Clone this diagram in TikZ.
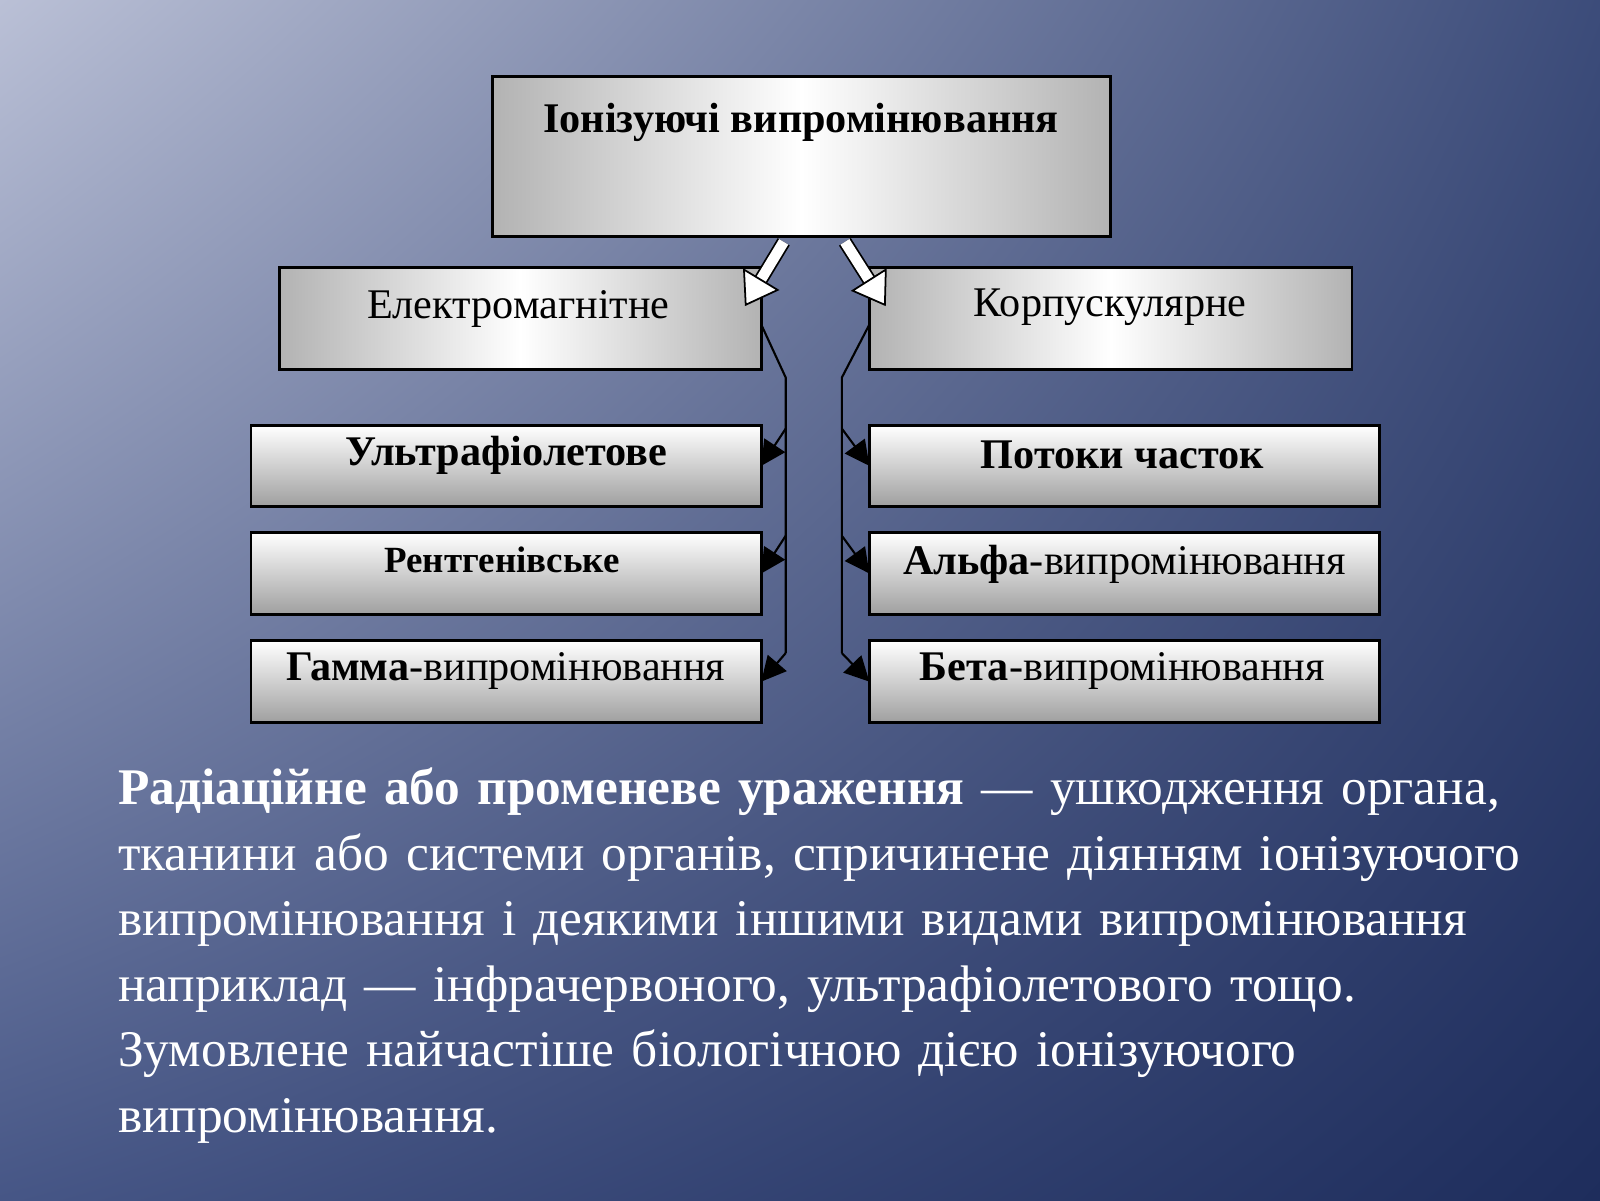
\documentclass[tikz,border=0pt]{standalone}
\usepackage{fontspec}
\setmainfont{Liberation Serif}
\usetikzlibrary{arrows.meta,shadings}
\definecolor{bgul}{RGB}{186,192,214}
\definecolor{bgur}{RGB}{60,76,122}
\definecolor{bgll}{RGB}{70,86,134}
\definecolor{bglr}{RGB}{30,45,92}
\begin{document}
\begin{tikzpicture}[x=0.0102cm,y=-0.0102cm,
  hbox/.style={draw=black,line width=0.8pt,left color=gray!60,right color=gray!60,middle color=white},
  vbox/.style={draw=black,line width=0.8pt,top color=white,bottom color=gray!75},
  lab/.style={font=\fontsize{12}{14}\selectfont},
  conn/.style={line width=0.6pt,-{Triangle[length=7pt,width=7pt]}},
  blk/.style={draw=black,line width=0.5pt,double=white,double distance=3pt,-{Triangle[open,length=9pt,width=12pt,fill=white]}}]
\shade[upper left=bgul,upper right=bgur,lower left=bgll,lower right=bglr] (0,0) rectangle (1568,1176);
\useasboundingbox (0,0) rectangle (1568,1176);
% boxes
\path[hbox] (483,75) rectangle (1088,232);
\node[lab,font=\bfseries\fontsize{12}{14}\selectfont] (top) at (785,120) {Іонізуючі випромінювання};
\path[hbox] (274,262) rectangle (746,362); \node[lab] (em) at (508,303) {Електромагнітне};
\path[hbox] (852,262) rectangle (1325,362); \node[lab] (kp) at (1088,301) {Корпускулярне};
\foreach \n/\ya/\yb in {1/417/496,2/522/602,3/628/708}{
  \path[vbox] (246,\ya) rectangle (746,\yb);
  \path[vbox] (852,\ya) rectangle (1352,\yb);
  \coordinate (L\n) at (746,{(\ya+\yb)/2});
  \coordinate (R\n) at (852,{(\ya+\yb)/2});
}
\node[lab,font=\bfseries\fontsize{12}{14}\selectfont] (u) at (496,446) {Ультрафіолетове};
\node[lab,font=\bfseries\fontsize{10.5}{13}\selectfont] (r) at (492,549) {Рентгенівське};
\node[lab] (g) at (496,658) {\textbf{Гамма}-випромінювання};
\node[lab,font=\bfseries\fontsize{12}{14}\selectfont] (p) at (1100,446) {Потоки часток};
\node[lab] (a) at (1102,553) {\textbf{Альфа}-випромінювання};
\node[lab] (b) at (1100,658) {\textbf{Бета}-випромінювання};
% block arrows
\coordinate (a1s) at (768,237); \coordinate (a1e) at (730,300);
\coordinate (a2s) at (828,237); \coordinate (a2e) at (868,300);
\draw[blk] (a1s) -- (a1e);
\draw[blk] (a2s) -- (a2e);
% connectors
\coordinate (lc) at (746,318); \coordinate (rc) at (852,318);
\draw[line width=0.6pt] (lc) -- (770,370) -- (770,640);
\draw[line width=0.6pt] (rc) -- (825,370) -- (825,640);
\draw[conn] (770,420) -- (L1);
\draw[conn] (770,525) -- (L2);
\draw[conn] (770,640) -- (L3);
\draw[conn] (825,420) -- (R1);
\draw[conn] (825,525) -- (R2);
\draw[conn] (825,640) -- (R3);
% text
\node[anchor=north west,text width=14.6cm,align=left,text=white,inner sep=0pt,
 font=\fontsize{14.6}{18.6}\selectfont] (txt) at (115,752)
 {\textbf{Радіаційне або променеве ураження} — ушкодження органа,\\ тканини або системи органів, спричинене діянням іонізуючого\\ випромінювання і деякими іншими видами випромінювання\\ наприклад — інфрачервоного, ультрафіолетового тощо.\\ Зумовлене найчастіше біологічною дією іонізуючого\\ випромінювання.};
\end{tikzpicture}
\end{document}
